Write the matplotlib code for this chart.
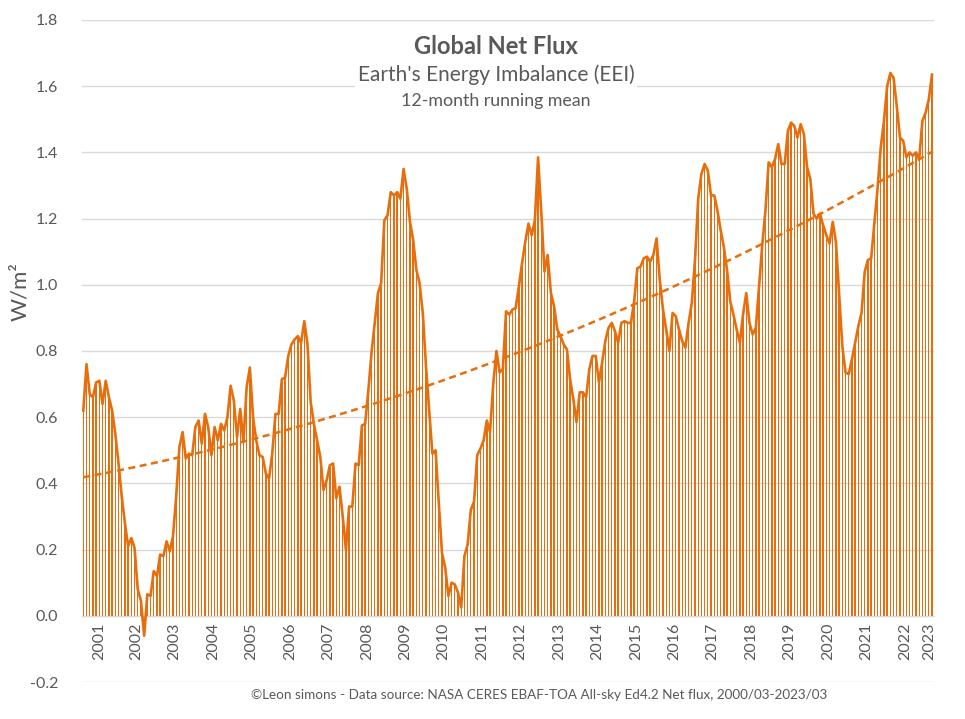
import numpy as np
import pandas as pd
import matplotlib
matplotlib.use('Agg')
import matplotlib.pyplot as plt
from matplotlib.patches import Rectangle

# ---- data (12-month running mean of CERES net flux, W/m²) ----
months = pd.period_range('2001-02', '2023-03', freq='M')
values = [
    0.62, 0.76, 0.67, 0.66, 0.705, 0.71, 0.64, 0.71, 0.66, 0.62,
    0.55, 0.46, 0.36, 0.28, 0.21, 0.235, 0.205, 0.08, 0.045, -0.06,
    0.065, 0.06, 0.135, 0.12, 0.185, 0.18, 0.225, 0.195, 0.24, 0.36,
    0.51, 0.555, 0.475, 0.49, 0.485, 0.57, 0.59, 0.52, 0.61, 0.57,
    0.485, 0.57, 0.53, 0.58, 0.56, 0.60, 0.695, 0.65, 0.54, 0.625,
    0.525, 0.69, 0.75, 0.60, 0.53, 0.485, 0.48, 0.43, 0.415, 0.49,
    0.61, 0.61, 0.715, 0.72, 0.785, 0.82, 0.835, 0.845,
    0.825, 0.89, 0.82, 0.645, 0.58, 0.53, 0.48, 0.38, 0.41, 0.455,
    0.46, 0.355, 0.39, 0.30, 0.20, 0.33, 0.33, 0.46, 0.455, 0.575,
    0.58, 0.68, 0.795, 0.885, 0.975, 1.005, 1.195, 1.21, 1.28, 1.27,
    1.28, 1.26, 1.35, 1.29, 1.19, 1.135, 1.045, 1.005, 0.915, 0.755,
    0.62, 0.49, 0.50, 0.34, 0.19, 0.145, 0.06, 0.10, 0.095, 0.07,
    0.025, 0.18, 0.215, 0.32, 0.345, 0.485, 0.505, 0.53, 0.59, 0.555,
    0.70, 0.80,
    0.735, 0.745, 0.92, 0.91, 0.925, 0.93, 0.995, 1.065, 1.13, 1.185,
    1.15, 1.195, 1.385, 1.22, 1.04, 1.09, 0.975, 0.935, 0.865, 0.845,
    0.82, 0.805, 0.715, 0.655, 0.585, 0.675, 0.675, 0.66, 0.745, 0.785,
    0.785, 0.705, 0.765, 0.83,
    0.87, 0.885, 0.86, 0.825, 0.885, 0.89, 0.885, 0.885, 0.95, 1.05,
    1.055, 1.08, 1.085, 1.07, 1.09, 1.14, 1.015, 0.925, 0.865, 0.80,
    0.915, 0.905, 0.865, 0.83, 0.81, 0.885, 0.945, 1.075, 1.26, 1.335,
    1.365, 1.345, 1.27,
    1.27, 1.225, 1.165, 1.115, 1.045, 0.95, 0.91, 0.865, 0.825, 0.91,
    0.975, 0.885, 0.85, 0.87, 0.995, 1.12, 1.225, 1.37, 1.355, 1.38,
    1.425, 1.365, 1.365, 1.465, 1.49, 1.48, 1.445, 1.485, 1.455, 1.355,
    1.32, 1.215, 1.20,
    1.215, 1.18, 1.15, 1.125, 1.19, 1.13, 0.975, 0.815, 0.735, 0.73,
    0.775, 0.825, 0.875, 0.915, 1.04, 1.075, 1.08, 1.185, 1.29, 1.415,
    1.495, 1.60, 1.64, 1.625, 1.54, 1.445, 1.435, 1.385, 1.40, 1.39,
    1.40, 1.38, 1.495, 1.52, 1.56, 1.635,
]
years = list(range(2001, 2024))
y_ticks = [-0.2, 0.0, 0.2, 0.4, 0.6, 0.8, 1.0, 1.2, 1.4, 1.6, 1.8]

title = 'Global Net Flux'
subtitle = "Earth's Energy Imbalance (EEI)"
subsub = '12-month running mean'
ylabel = 'W/m²'
footer = '©Leon simons - Data source: NASA CERES EBAF-TOA All-sky Ed4.2 Net flux, 2000/03-2023/03'

# ---- style ----
ORANGE = '#E66E0C'
GRAY = '#595959'
GRID = '#D9D9D9'
plt.rcParams['font.family'] = ['Lato', 'DejaVu Sans']

W, H = 965, 719
fig = plt.figure(figsize=(W / 100, H / 100), dpi=100)
ax = fig.add_axes([81.7 / W, 1 - 682 / H, (933.6 - 81.7) / W, (682 - 20) / H])

x = np.arange(len(values))
ax.bar(x, values, width=0.42, color=ORANGE, zorder=2, linewidth=0)
ax.plot(x, values, color=ORANGE, lw=1.9, zorder=3, solid_joinstyle='round')
coef = np.polyfit(x, values, 2)
ax.plot(x, np.polyval(coef, x), color=ORANGE, lw=1.8, ls=(0, (2.8, 1.8)), zorder=4)

ax.set_xlim(-0.5, len(values) - 0.5)
ax.set_ylim(-0.2, 1.8)
ax.set_yticks(y_ticks)
ax.set_yticklabels([f'{v:.1f}' for v in y_ticks])
ax.yaxis.grid(True, color=GRID, lw=1)
ax.set_axisbelow(True)
for s in ['left', 'right', 'top']:
    ax.spines[s].set_visible(False)
ax.spines['bottom'].set_position(('data', 0))
ax.spines['bottom'].set_color(GRID)

year_arr = np.array([p.year for p in months])
ticks = [x[year_arr == yr].mean() for yr in years]
ax.set_xticks(ticks)
ax.set_xticklabels([str(yr) for yr in years], rotation=90)
ax.tick_params(axis='x', length=0, pad=5, labelsize=11.5, labelcolor=GRAY)
ax.tick_params(axis='y', length=0, pad=17, labelsize=11.5, labelcolor=GRAY)

fig.text(20 / W, 1 - 292 / H, ylabel, rotation=90, ha='center', va='center',
         fontsize=16, color=GRAY)

fig.add_artist(Rectangle((355 / W, 1 - 112 / H), (637 - 355) / W, (112 - 28) / H,
                         transform=fig.transFigure, facecolor='white',
                         edgecolor='none', zorder=5))
fig.text(496 / W, 1 - 46 / H, title, ha='center', va='center', fontsize=17,
         fontweight='bold', color=GRAY, zorder=6)
fig.text(496 / W, 1 - 75 / H, subtitle, ha='center', va='center', fontsize=15,
         color=GRAY, zorder=6)
fig.text(496 / W, 1 - 101 / H, subsub, ha='center', va='center', fontsize=12.8,
         color=GRAY, zorder=6)
fig.text(539 / W, 1 - 695 / H, footer, ha='center', va='center', fontsize=9.7,
         color=GRAY)

fig.savefig('out.png', dpi=100)
